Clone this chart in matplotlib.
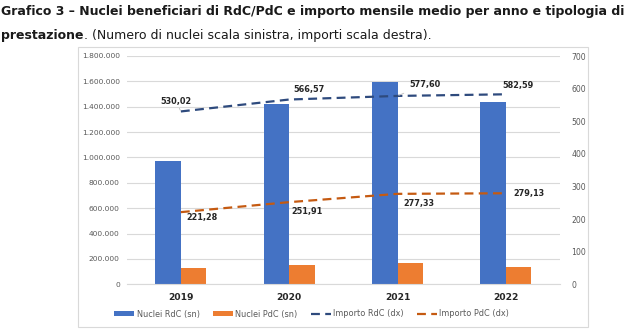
import matplotlib.pyplot as plt
import numpy as np
from matplotlib.patches import Rectangle
from matplotlib.ticker import FuncFormatter, MultipleLocator

# Data
anni = ['2019', '2020', '2021', '2022']
nuclei_rdc = [975000, 1419000, 1597000, 1440000]
nuclei_pdc = [128000, 152000, 168000, 139000]
importo_rdc = [530.02, 566.57, 577.60, 582.59]
importo_pdc = [221.28, 251.91, 277.33, 279.13]
lab_rdc = ['530,02', '566,57', '577,60', '582,59']
lab_pdc = ['221,28', '251,91', '277,33', '279,13']

BLUE = '#4472C4'
ORANGE = '#ED7D31'
LBLUE = '#2E4A7D'
LORANGE = '#C55A11'
GREY = '#595959'

fig = plt.figure(figsize=(6.4, 3.3), dpi=100)
fig.patch.set_facecolor('white')

# chart frame
fig.patches.append(Rectangle((78/640, 1 - 327/330), (588-78)/640, (327-47)/330,
                             transform=fig.transFigure, fill=False,
                             edgecolor='#D9D9D9', linewidth=0.8))

ax1 = fig.add_axes([126.7/640, 1 - 284.3/330, (560-126.7)/640, (284.3-56)/330])
ax2 = ax1.twinx()

x = np.arange(len(anni))
w = 0.236
b1 = ax1.bar(x - w/2, nuclei_rdc, width=w, color=BLUE, zorder=2)
b2 = ax1.bar(x + w/2, nuclei_pdc, width=w, color=ORANGE, zorder=2)

ax1.set_ylim(0, 1800000)
ax1.set_xlim(-0.5, 3.5)
ax1.yaxis.set_major_locator(MultipleLocator(200000))
ax1.yaxis.set_major_formatter(FuncFormatter(lambda v, p: f'{int(v):,}'.replace(',', '.')))
ax1.grid(axis='y', color='#D9D9D9', linewidth=0.8, zorder=0)
ax1.set_axisbelow(True)
ax1.set_xticks(x)
ax1.set_xticklabels(anni, fontweight='bold', fontsize=6.6, color='#262626')
ax1.tick_params(axis='x', length=0, pad=6)
ax1.tick_params(axis='y', length=0, labelsize=5.4, labelcolor=GREY, pad=5)

ax2.set_ylim(0, 700)
ax2.yaxis.set_major_locator(MultipleLocator(100))
ax2.tick_params(axis='y', length=0, labelsize=5.6, labelcolor=GREY, pad=8)

for a in (ax1, ax2):
    for s in a.spines.values():
        s.set_visible(False)
ax1.spines['bottom'].set_visible(True)
ax1.spines['bottom'].set_color('#D9D9D9')

l1, = ax2.plot(x, importo_rdc, color=LBLUE, linewidth=1.6, dashes=(4.0, 2.4), zorder=3)
l2, = ax2.plot(x, importo_pdc, color=LORANGE, linewidth=1.6, dashes=(4.0, 2.4), zorder=3)
for ln in (l1, l2):
    ln.set_dash_capstyle('butt')

off_rdc = [(-5, 10.4), (20, 10.2), (27, 11.6), (12, 8.6)]
off_pdc = [(20.7, -5.6), (18, -8.9), (21, -9.4), (23, -0.7)]
leader = [True, False, True, False]
for i in range(len(anni)):
    ap = dict(arrowstyle='-', color='#BFBFBF', lw=0.6, shrinkA=3, shrinkB=1) if leader[i] else None
    ax2.annotate(lab_rdc[i], (x[i], importo_rdc[i]), xytext=off_rdc[i],
                 textcoords='offset pixels', ha='center', va='center',
                 fontsize=5.9, fontweight='bold', color='#262626', zorder=4,
                 arrowprops=ap)
    ax2.annotate(lab_pdc[i], (x[i], importo_pdc[i]), xytext=off_pdc[i],
                 textcoords='offset pixels', ha='center', va='center',
                 fontsize=5.9, fontweight='bold', color='#262626', zorder=4)

leg = fig.legend([b1, b2, l1, l2],
                 ['Nuclei RdC (sn)', 'Nuclei PdC (sn)', 'Importo RdC (dx)', 'Importo PdC (dx)'],
                 loc='center', bbox_to_anchor=(0.487, 1 - 314/330), ncol=4, frameon=False,
                 fontsize=5.9, handlelength=2.45, handleheight=0.5, columnspacing=1.6,
                 handletextpad=0.3, labelcolor=GREY)

# title
fig.text(0.002, 1 - 12/330,
         'Grafico 3 \u2013 Nuclei beneficiari di RdC/PdC e importo mensile medio per anno e tipologia di',
         fontsize=9.0, fontweight='bold', ha='left', va='center', color='#1a1a1a')
t = fig.text(0.002, 1 - 36/330, 'prestazione', fontsize=9.0, fontweight='bold',
             ha='left', va='center', color='#1a1a1a')
fig.canvas.draw()
bb = t.get_window_extent()
fig.text(bb.x1 / fig.bbox.width, 1 - 36/330,
         '. (Numero di nuclei scala sinistra, importi scala destra).',
         fontsize=9.0, ha='left', va='center', color='#1a1a1a')

fig.savefig('out.png', dpi=100)
